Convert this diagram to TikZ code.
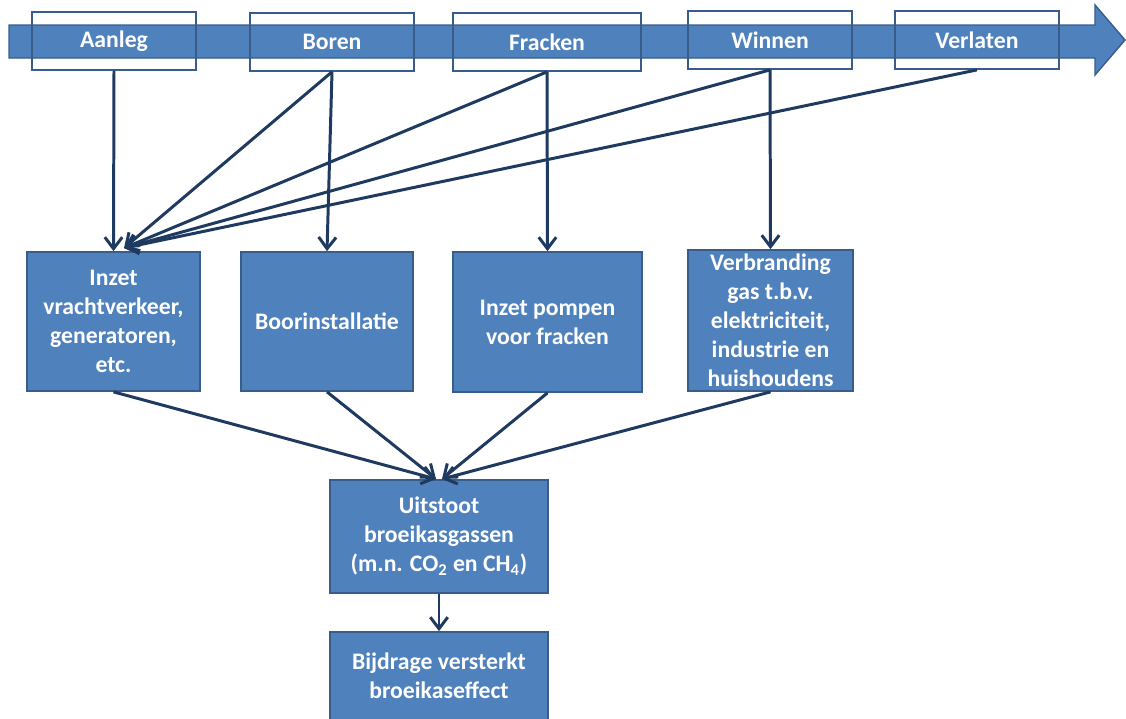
\documentclass[tikz,border=0pt]{standalone}
\usepackage{fontspec}
\setmainfont{Carlito}
\usetikzlibrary{arrows.meta}
\definecolor{boxblue}{HTML}{4F81BD}
\definecolor{boxline}{HTML}{385D8A}
\definecolor{arrowblue}{HTML}{1F3A60}
\begin{document}
\begin{tikzpicture}[x=0.02cm,y=-0.02cm,
  every node/.style={font=\bfseries\fontsize{13.5}{16.5}\selectfont,text=white,align=center,inner sep=0pt},
  phase/.style={draw=boxline,line width=1pt,minimum width=3.28cm,minimum height=1.16cm},
  blok/.style={draw=boxline,fill=boxblue,line width=1pt},
  pijl/.style={draw=arrowblue,line width=1.7pt,-{Straight Barb[length=2.3mm,width=3.5mm,line width=1.7pt]}}]
\useasboundingbox (0,0) rectangle (1126,718);
% tijdlijn
\fill[boxblue,draw=boxline,line width=0.8pt] (9,25) -- (1095,25) -- (1095,5) -- (1125,40) -- (1095,75) -- (1095,58) -- (9,58) -- cycle;
\node[phase] (a1) at (114,41) {Aanleg};
\node[phase] (a2) at (332,42) {Boren};
\node[phase,minimum width=3.76cm] (a3) at (547,42) {Fracken};
\node[phase] (a4) at (770,40) {Winnen};
\node[phase] (a5) at (977,40) {Verlaten};
% effecten
\node[blok,minimum width=3.46cm,minimum height=2.78cm] (b1) at (113.5,321.5) {Inzet\\vrachtverkeer,\\generatoren,\\etc.};
\node[blok,minimum width=3.44cm,minimum height=2.78cm] (b2) at (327,321.5) {Boorinstallatie};
\node[blok,minimum width=3.78cm,minimum height=2.8cm] (b3) at (547.5,322) {Inzet pompen\\voor fracken};
\node[blok,minimum width=3.3cm,minimum height=2.82cm] (b4) at (770.5,320.5) {Verbranding\\gas t.b.v.\\elektriciteit,\\industrie en\\huishoudens};
\node[blok,minimum width=4.36cm,minimum height=2.26cm] (c) at (439,536.5) {Uitstoot\\broeikasgassen\\(m.n. CO\textsubscript{2} en CH\textsubscript{4})};
\node[blok,minimum width=4.36cm,minimum height=1.76cm] (d) at (439,676) {Bijdrage versterkt\\broeikaseffect};
\coordinate (t1) at (124,248);
\coordinate (tl) at (436,479);
\coordinate (tr) at (442,479);
% pijlen
\draw[pijl] (a1.south) -- (b1.north);
\draw[pijl] (a2.south) -- (t1);
\draw[pijl] (a3.south) -- (t1);
\draw[pijl] (a4.south) -- (t1);
\draw[pijl] (a5.south) -- (t1);
\draw[pijl] (a2.south) -- (b2.north);
\draw[pijl] (a3.south) -- (b3.north);
\draw[pijl] (a4.south) -- (b4.north);
\draw[pijl] (b1.south) -- (tl);
\draw[pijl] (b2.south) -- (tl);
\draw[pijl] (b3.south) -- (tr);
\draw[pijl] (b4.south) -- (tr);
\draw[pijl] (c.south) -- (d.north);
\end{tikzpicture}
\end{document}
